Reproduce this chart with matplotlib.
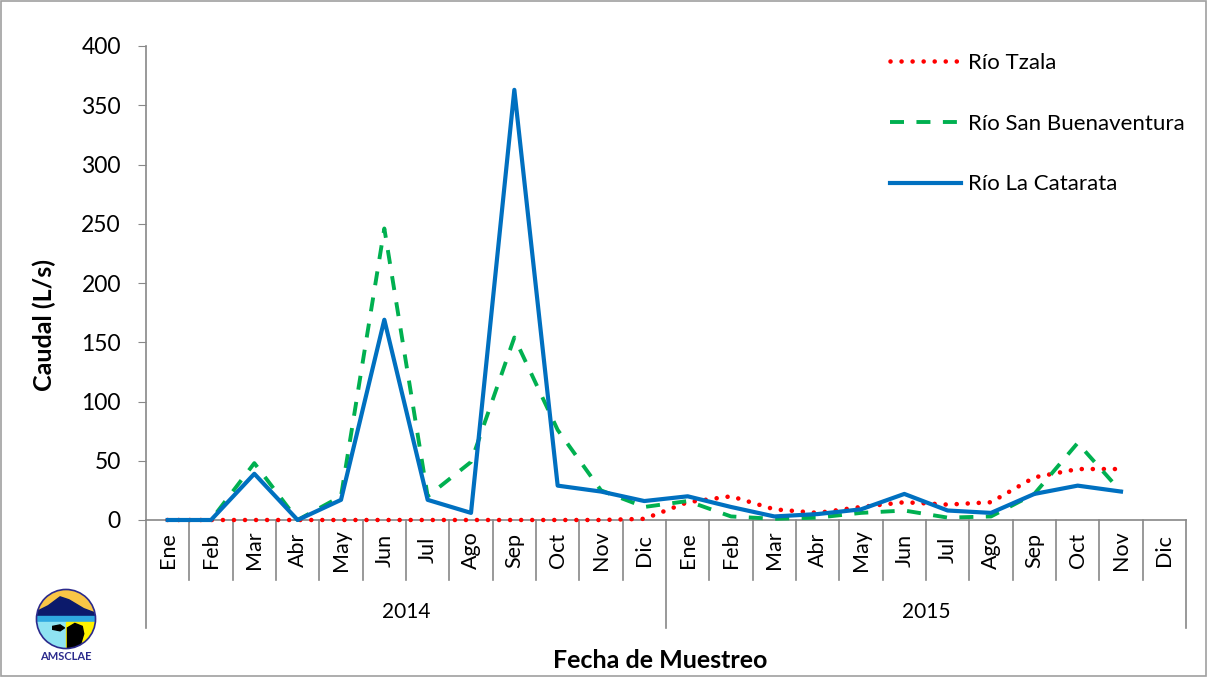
import numpy as np
import matplotlib
matplotlib.use("Agg")
import matplotlib.pyplot as plt
from matplotlib.patches import Circle, Rectangle, Polygon

plt.rcParams['font.family'] = ['Lato', 'DejaVu Sans']

months = ['Ene', 'Feb', 'Mar', 'Abr', 'May', 'Jun', 'Jul', 'Ago', 'Sep', 'Oct', 'Nov', 'Dic']
years = ['2014', '2015']

tzala = [0, 0, 0, 0, 0, 0, 0, 0, 0, 0, 0, 1,
         15, 20, 9, 6, 11, 15, 13, 15, 36, 43, 43, np.nan]
san_buenaventura = [0, 0, 48, 0, 20, 246, 20, 49, 154, 76, 25, 11,
                    16, 3, 1, 2, 6, 8, 2, 3, 22, 65, 24, np.nan]
la_catarata = [0, 0, 39, 0, 17, 169, 17, 6, 363, 29, 24, 16,
               20, 11, 3, 5, 9, 22, 8, 6, 22, 29, 24, np.nan]

W, H = 1207, 677
fig = plt.figure(figsize=(W / 100, H / 100), dpi=100)
ax = fig.add_axes([146 / W, 1 - 520 / H, (1186 - 146) / W, (520 - 46) / H])

x = np.arange(24)
ax.plot(x, tzala, color='#FF0000', lw=3.3, linestyle=(0, (0.01, 2.4)),
        dash_capstyle='round', label='Río Tzala', zorder=2.6, clip_on=False)
ax.plot(x, san_buenaventura, color='#00B050', lw=2.8, linestyle=(0, (3.6, 3.2)),
        label='Río San Buenaventura', zorder=2.7, clip_on=False)
ax.plot(x, la_catarata, color='#0070C0', lw=3, label='Río La Catarata',
        zorder=2.8, clip_on=False)

ax.set_xlim(-0.5, 23.5)
ax.set_ylim(0, 400)
ax.set_yticks(range(0, 401, 50))
ax.tick_params(axis='y', labelsize=16.5, length=6, color='#888888', pad=12)
ax.set_xticks([])
for s in ['top', 'right']:
    ax.spines[s].set_visible(False)
ax.spines['left'].set_color('#888888')
ax.spines['bottom'].set_color('#888888')
ax.spines['left'].set_linewidth(1.2)
ax.spines['bottom'].set_linewidth(1.2)

# multi-level category axis
tr = ax.get_xaxis_transform()
ph = 520 - 46
y_sep = -60 / ph
y_long = -108 / ph
for i in range(25):
    bottom = y_long if i % 12 == 0 else y_sep
    ax.plot([i - 0.5, i - 0.5], [0, bottom], color='#888888', lw=1.2,
            transform=tr, clip_on=False)
for i in range(24):
    ax.text(i, -30 / ph, months[i % 12], rotation=90, ha='center', va='center',
            fontsize=15.5, transform=tr)
for k, yr in enumerate(years):
    ax.text(5.5 + 12 * k, -92 / ph, yr, ha='center', va='center',
            fontsize=15, transform=tr)

fig.text(44 / W, 1 - 325 / H, 'Caudal (L/s)', rotation=90, ha='center', va='center',
         fontsize=18, fontweight='bold')
fig.text(660 / W, 1 - 660 / H, 'Fecha de Muestreo', ha='center', va='center',
         fontsize=18, fontweight='bold')

leg = ax.legend(loc='upper left', bbox_to_anchor=(890 / W, 1 - 53 / H),
                bbox_transform=fig.transFigure, frameon=False, fontsize=16,
                handlelength=3.2, handletextpad=0.3, labelspacing=1.83,
                borderpad=0, borderaxespad=0)

# outer border
fig.patches.append(Rectangle((1 / W, 1 / H), 1 - 2 / W, 1 - 2 / H, transform=fig.transFigure,
                             fill=False, edgecolor='#A0A0A0', lw=1.2))

# logo
lax = fig.add_axes([35 / W, 1 - 650 / H, 62 / W, 62 / H])
lax.set_xlim(-1.05, 1.05)
lax.set_ylim(-1.05, 1.05)
lax.set_aspect('equal')
lax.axis('off')
clip = Circle((0, 0), 1, transform=lax.transData)
pieces = [
    Rectangle((-1, 0.1), 2, 1, color='#F9C646'),
    Polygon([(-1, 0.25), (-0.6, 0.45), (-0.2, 0.75), (0.1, 0.65), (0.6, 0.35), (1, 0.2),
             (1, 0.1), (-1, 0.1)], color='#0B1A6B'),
    Rectangle((-1, -0.1), 2, 0.2, color='#2FA8E0'),
    Rectangle((-1, -1), 1, 0.9, color='#8FE3F2'),
    Rectangle((0, -1), 1, 0.9, color='#FFF200'),
    Polygon([(0.05, -1), (0.05, -0.3), (0.3, -0.15), (0.55, -0.25), (0.6, -0.5), (0.45, -1)],
            color='black'),
    Polygon([(-0.45, -0.25), (-0.2, -0.2), (-0.05, -0.3), (-0.2, -0.4), (-0.45, -0.35)],
            color='black'),
]
for p in pieces:
    lax.add_patch(p)
    p.set_clip_path(clip)
lax.add_patch(Circle((0, 0), 1, fill=False, edgecolor='#2B2A8C', lw=1.2))
fig.text(66 / W, 1 - 657 / H, 'AMSCLAE', ha='center', va='center', fontsize=8,
         fontweight='bold', color='#2B2A8C')

fig.savefig('out.png', dpi=100)
